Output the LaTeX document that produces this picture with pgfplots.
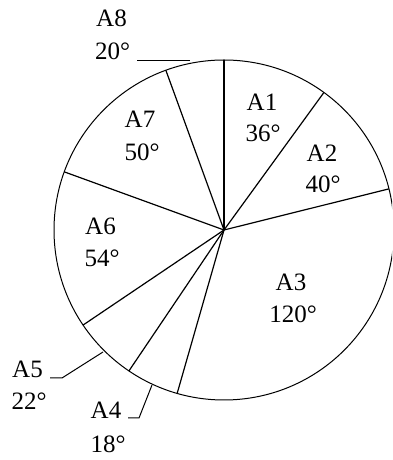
\documentclass[border=0pt]{standalone}
\usepackage{pgfplots}
\pgfplotsset{compat=1.18}
\usepackage{pgfplotstable}
\usepackage{fontspec}
\setmainfont{Liberation Serif}

% sector boundaries, degrees clockwise from the top, and radius
% A1 36, A2 40, A3 120, A4 18, A5 22, A6 54, A7 50, A8 20
\pgfplotstableread{
c   r
0   170
36  170
76  170
196 170
214 170
236 170
290 170
340 170
}\bounds

\tikzset{lbl/.style={font=\fontsize{25}{30}\selectfont, inner sep=0pt, anchor=base}}

\begin{document}
\begin{tikzpicture}
\begin{axis}[
    scale only axis,
    width=392pt, height=460pt,
    xmin=0, xmax=392,
    ymin=0, ymax=460,
    hide axis,
    clip=true,
]
\coordinate (bl) at (axis cs:0,0);
\coordinate (tr) at (axis cs:392,460);

% outline
\draw[line width=1pt] (axis cs:224,230) circle[radius=170];

% radial lines
\addplot[black, line width=1.2pt, -, quiver={u=\thisrow{r}*sin(\thisrow{c}), v=\thisrow{r}*cos(\thisrow{c})}]
    table[x expr=224, y expr=230] {\bounds};

% leader lines
\addplot[black, line width=1pt, mark=none] coordinates {(137,399) (190,399)};
\addplot[black, line width=1pt, mark=none] coordinates {(50,82) (62,82) (103,108)};
\addplot[black, line width=1pt, mark=none] coordinates {(128,42) (139,42) (152,75)};

% labels
\node[lbl] at (axis cs:262,349) {A1};
\node[lbl] at (axis cs:263,318) {36°};
\node[lbl] at (axis cs:322,298) {A2};
\node[lbl] at (axis cs:323,267) {40°};
\node[lbl] at (axis cs:291,169) {A3};
\node[lbl] at (axis cs:293,137) {120°};
\node[lbl] at (axis cs:106,41) {A4};
\node[lbl] at (axis cs:108,8) {18°};
\node[lbl] at (axis cs:27.5,82) {A5};
\node[lbl] at (axis cs:29,50) {22°};
\node[lbl] at (axis cs:100.5,225) {A6};
\node[lbl] at (axis cs:102,193) {54°};
\node[lbl] at (axis cs:140,332) {A7};
\node[lbl] at (axis cs:142,299) {50°};
\node[lbl] at (axis cs:111.5,433) {A8};
\node[lbl] at (axis cs:112.5,400) {20°};
\end{axis}
\pgfresetboundingbox
\path[use as bounding box] (bl) rectangle (tr);
\end{tikzpicture}
\end{document}
